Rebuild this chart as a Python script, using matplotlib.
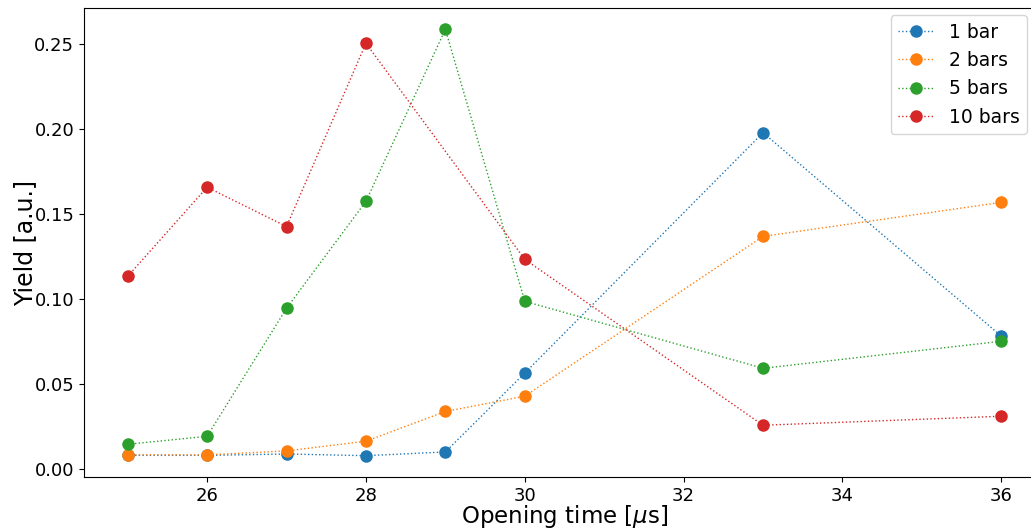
import matplotlib
matplotlib.use("Agg")
import matplotlib.pyplot as plt

# Opening times (in microseconds)
t_open = [25, 26, 27, 28, 29, 30, 33, 36]
t_open_10 = [25, 26, 27, 28, 30, 33, 36]

# Yields for each backing pressure
yield_1bar = [0.0082, 0.0082, 0.0090, 0.0080, 0.0102, 0.0566, 0.1980, 0.0783]
yield_2bar = [0.0085, 0.0085, 0.0108, 0.0165, 0.0340, 0.0430, 0.1370, 0.1570]
yield_5bar = [0.0147, 0.0194, 0.0947, 0.1576, 0.2588, 0.0988, 0.0594, 0.0753]
yield_10bar = [0.1135, 0.1659, 0.1428, 0.2506, 0.1235, 0.0259, 0.0312]

fig = plt.figure(figsize=(10.31, 5.29), dpi=100)
ax = fig.add_axes([84/1031, 52/529, (1045-84)/1031, (477-8)/529])

ax.plot(t_open, yield_1bar, 'o:', ms=8, lw=1, label='1 bar')
ax.plot(t_open, yield_2bar, 'o:', ms=8, lw=1, label='2 bars')
ax.plot(t_open, yield_5bar, 'o:', ms=8, lw=1, label='5 bars')
ax.plot(t_open_10, yield_10bar, 'o:', ms=8, lw=1, label='10 bars')

ax.set_xlabel(r'Opening time [$\mu$s]', fontsize=16.5, labelpad=-1.2)
ax.set_ylabel('Yield [a.u.]', fontsize=17, labelpad=-2)
ax.tick_params(labelsize=13)
ax.legend(fontsize=13.5, loc='upper right', bbox_to_anchor=(1027/1031, 1-15/529),
          bbox_transform=fig.transFigure, borderaxespad=0, handlelength=1.9)

fig.savefig('out.png', dpi=100)
